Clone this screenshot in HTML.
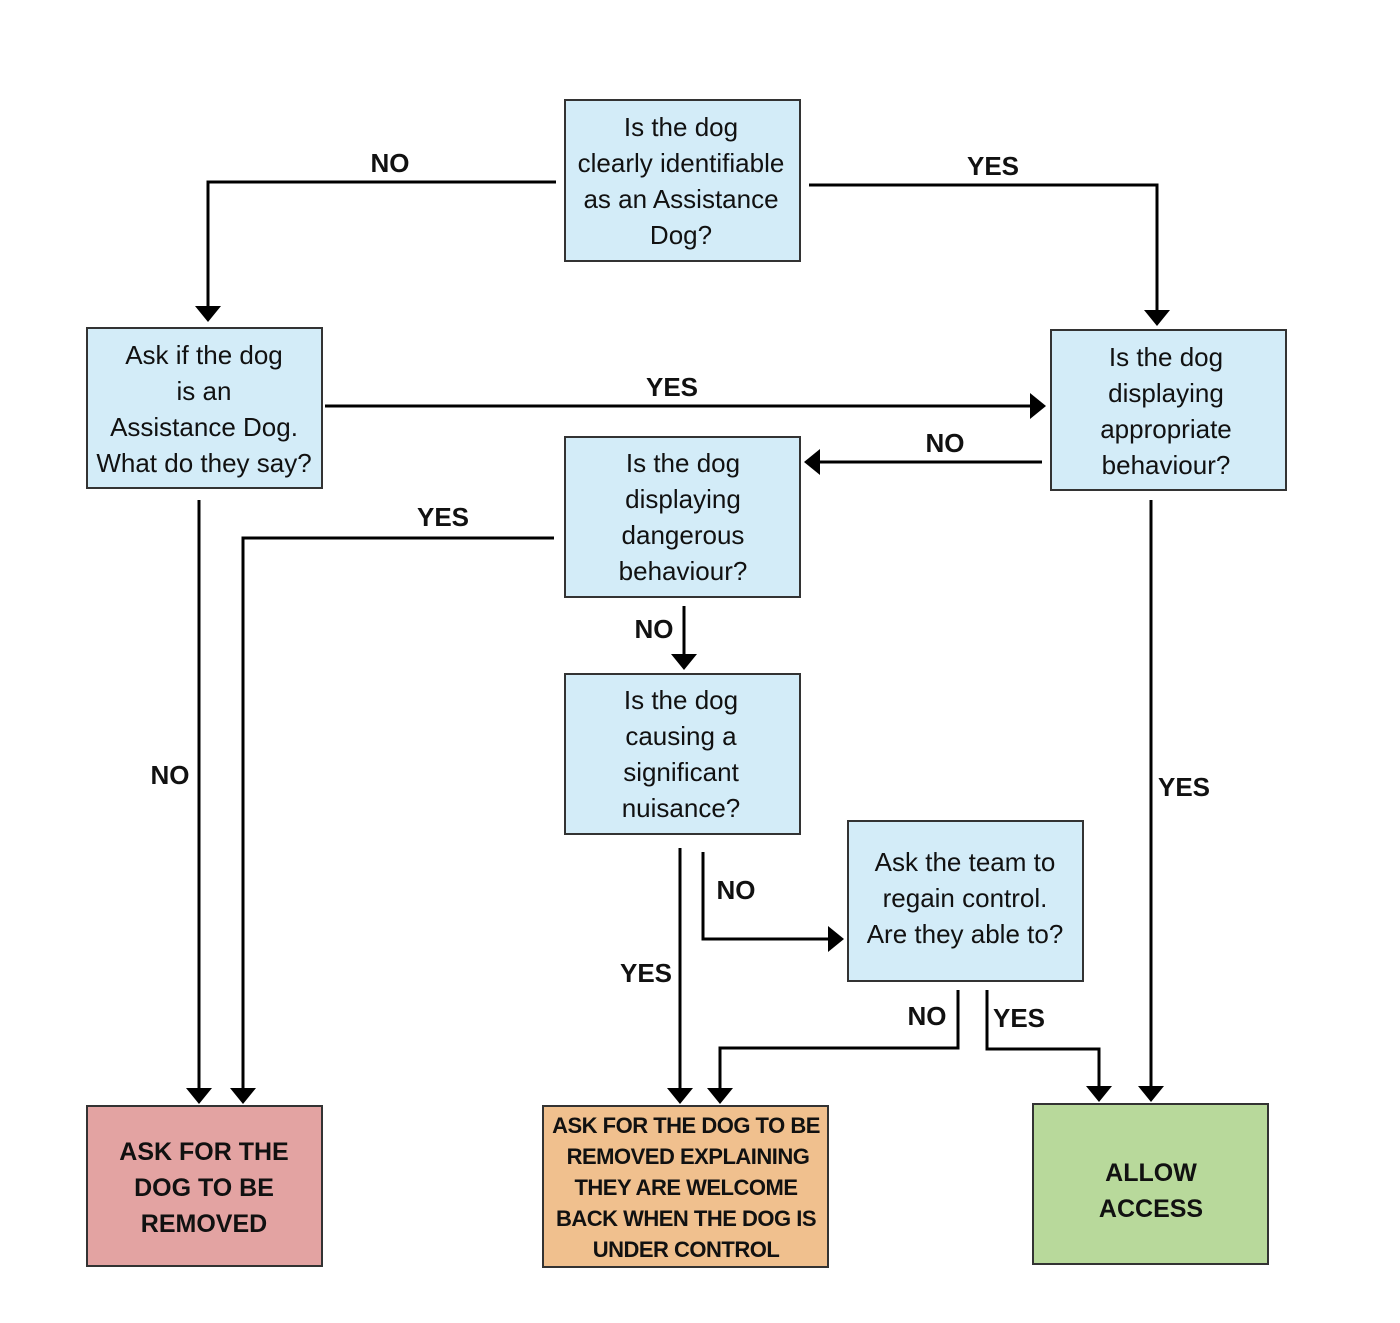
<!DOCTYPE html>
<html><head><meta charset="utf-8"><style>
body{margin:0;background:#fff;}
svg{display:block;}
.t{font-family:"Liberation Sans",sans-serif;font-size:26px;fill:#111;text-anchor:middle;}
.l{font-family:"Liberation Sans",sans-serif;font-size:26px;font-weight:bold;fill:#111;text-anchor:middle;}
.b{font-family:"Liberation Sans",sans-serif;font-size:25px;font-weight:bold;fill:#111;text-anchor:middle;}
.o{font-family:"Liberation Sans",sans-serif;font-size:22px;font-weight:bold;fill:#111;text-anchor:middle;letter-spacing:-0.5px;}
</style></head><body>
<svg width="1400" height="1323" viewBox="0 0 1400 1323" xmlns="http://www.w3.org/2000/svg">
<g stroke="#333" stroke-width="2">
<rect x="565" y="100" width="235" height="161" fill="#d3ecf8"/>
<rect x="87" y="328" width="235" height="160" fill="#d3ecf8"/>
<rect x="1051" y="330" width="235" height="160" fill="#d3ecf8"/>
<rect x="565" y="437" width="235" height="160" fill="#d3ecf8"/>
<rect x="565" y="674" width="235" height="160" fill="#d3ecf8"/>
<rect x="848" y="821" width="235" height="160" fill="#d3ecf8"/>
<rect x="87" y="1106" width="235" height="160" fill="#e3a3a2"/>
<rect x="543" y="1106" width="285" height="161" fill="#f0c08e"/>
<rect x="1033" y="1104" width="235" height="160" fill="#b8d99b"/>
</g>
<g fill="none" stroke="#000" stroke-width="3">
<polyline points="556,182 208,182 208,308"/>
<polyline points="809,185 1157,185 1157,312"/>
<polyline points="325,406 1032,406"/>
<polyline points="1042,462 818,462"/>
<polyline points="199,500 199,1090"/>
<polyline points="554,538 243,538 243,1090"/>
<polyline points="684,606 684,656"/>
<polyline points="680,848 680,1090"/>
<polyline points="703,852 703,939 830,939"/>
<polyline points="958,990 958,1048 720,1048 720,1090"/>
<polyline points="987,990 987,1049 1099,1049 1099,1088"/>
<polyline points="1151,500 1151,1088"/>
</g>
<g fill="#000">
<polygon points="195,306 221,306 208,322"/>
<polygon points="1144,310 1170,310 1157,326"/>
<polygon points="1030,393 1030,419 1046,406"/>
<polygon points="820,449 820,475 804,462"/>
<polygon points="186,1088 212,1088 199,1104"/>
<polygon points="230,1088 256,1088 243,1104"/>
<polygon points="671,654 697,654 684,670"/>
<polygon points="667,1088 693,1088 680,1104"/>
<polygon points="828,926 828,952 844,939"/>
<polygon points="707,1088 733,1088 720,1104"/>
<polygon points="1086,1086 1112,1086 1099,1102"/>
<polygon points="1138,1086 1164,1086 1151,1102"/>
</g>
<g class="t">
<text x="681" y="136">Is the dog</text><text x="681" y="172">clearly identifiable</text><text x="681" y="208">as an Assistance</text><text x="681" y="244">Dog?</text>
<text x="204" y="364">Ask if the dog</text><text x="204" y="400">is an</text><text x="204" y="436">Assistance Dog.</text><text x="204" y="472">What do they say?</text>
<text x="1166" y="366">Is the dog</text><text x="1166" y="402">displaying</text><text x="1166" y="438">appropriate</text><text x="1166" y="474">behaviour?</text>
<text x="683" y="472">Is the dog</text><text x="683" y="508">displaying</text><text x="683" y="544">dangerous</text><text x="683" y="580">behaviour?</text>
<text x="681" y="709">Is the dog</text><text x="681" y="745">causing a</text><text x="681" y="781">significant</text><text x="681" y="817">nuisance?</text>
<text x="965" y="871">Ask the team to</text><text x="965" y="907">regain control.</text><text x="965" y="943">Are they able to?</text>
</g>
<g class="l">
<text x="390" y="172">NO</text><text x="993" y="175">YES</text><text x="672" y="396">YES</text><text x="945" y="452">NO</text>
<text x="443" y="526">YES</text><text x="170" y="784">NO</text><text x="654" y="638">NO</text><text x="736" y="899">NO</text>
<text x="646" y="982">YES</text><text x="927" y="1025">NO</text><text x="1019" y="1027">YES</text><text x="1184" y="796">YES</text>
</g>
<g class="b">
<text x="204" y="1160">ASK FOR THE</text><text x="204" y="1196">DOG TO BE</text><text x="204" y="1232">REMOVED</text>
<text x="1151" y="1181">ALLOW</text><text x="1151" y="1217">ACCESS</text>
</g>
<g class="o">
<text x="686" y="1133">ASK FOR THE DOG TO BE</text><text x="688" y="1164">REMOVED EXPLAINING</text><text x="686" y="1195">THEY ARE WELCOME</text><text x="686" y="1226">BACK WHEN THE DOG IS</text><text x="686" y="1257">UNDER CONTROL</text>
</g>
</svg>
</body></html>
